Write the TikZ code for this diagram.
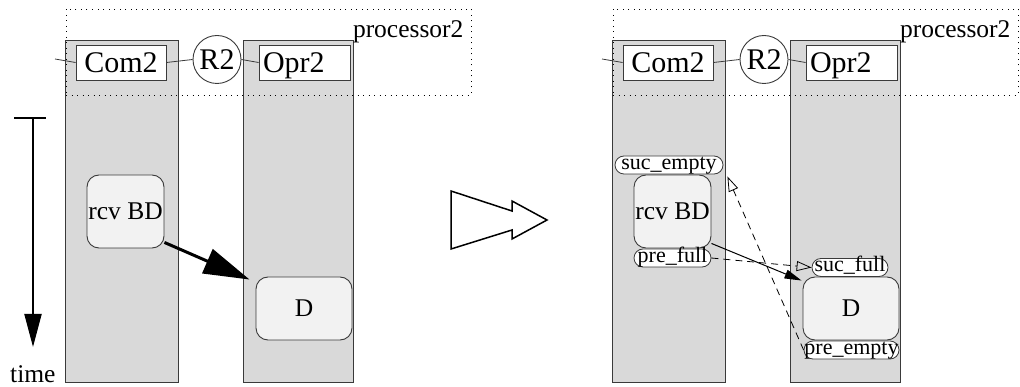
\documentclass[tikz,border=0pt]{standalone}
\usepackage{fontspec}
\setmainfont{Liberation Serif}
\usetikzlibrary{arrows.meta}
\definecolor{colgray}{HTML}{D9D9D9}
\definecolor{boxgray}{HTML}{F2F2F2}
\definecolor{edgegray}{HTML}{3A3A3A}
\begin{document}
\begin{tikzpicture}[x=1pt,y=-1pt,
  column/.style={draw=edgegray, fill=colgray, line width=0.8pt, inner sep=0pt, minimum height=342pt},
  procbox/.style={draw=black, dash pattern=on 1pt off 4.5pt, line width=0.9pt, inner sep=0pt, minimum width=405pt, minimum height=86pt},
  labelbox/.style={draw=edgegray, fill=white, line width=0.9pt, inner sep=0pt, minimum height=35pt, text height=20pt, text depth=0pt, font=\fontsize{30}{34}\selectfont},
  ringnode/.style={circle, draw=edgegray, fill=white, line width=0.9pt, inner sep=0pt, minimum size=48pt, text height=20pt, text depth=-7pt, font=\fontsize{30}{34}\selectfont},
  taskbox/.style={draw=edgegray, fill=boxgray, line width=0.9pt, rounded corners=12pt, inner sep=0pt, font=\fontsize{25.5}{30}\selectfont},
  pill/.style={draw=edgegray, fill=white, line width=0.8pt, rounded corners=9pt, inner sep=0pt, minimum height=18pt, text height=13pt, text depth=4pt, font=\fontsize{22}{24}\selectfont},
  wire/.style={draw=edgegray, line width=0.8pt},
  syncarrow/.style={line width=0.8pt, dash pattern=on 7pt off 5pt, -{Triangle[open,length=15pt,width=10pt]}},
  biglabel/.style={font=\fontsize{25.5}{30}\selectfont}
]
\useasboundingbox (0,0) rectangle (1020,387);

% ---------------- left panel ----------------
\node[column, minimum width=113pt] (colA1) at (121.5,211) {};
\node[column, minimum width=110pt] (colA2) at (298,211) {};
\node[procbox] (procA) at (268.5,52) {};
\node[biglabel, anchor=base east] (procLabA) at (467,38) {processor2};
\node[labelbox, minimum width=90pt] (comA) at (121,62.5) {Com2};
\node[ringnode] (rA) at (217,59.5) {R2};
\node[labelbox, text width=83pt, align=left, inner xsep=4pt] (oprA) at (304.5,62.5) {Opr2};
\coordinate (inA) at (55,59);
\draw[wire] (inA) -- (comA.west);
\draw[wire] (comA.east) -- (rA.west);
\draw[wire] (rA.east) -- (oprA.west);

\node[taskbox, minimum width=77pt, minimum height=73pt] (rcvA) at (125.5,211.5) {rcv BD};
\node[taskbox, minimum width=96pt, minimum height=63pt] (dA) at (304,308.5) {D};
\draw[line width=3pt, -{Triangle[length=46pt,width=26pt]}]
  ([yshift=6pt]rcvA.south east) -- ([xshift=-6pt,yshift=-3pt]dA.north west);

% time axis
\coordinate (tTop) at (33,118);
\coordinate (tBot) at (33,347);
\coordinate (tBarL) at (14,118);
\coordinate (tBarR) at (46,118);
\draw[line width=2pt] (tBarL) -- (tBarR);
\draw[line width=2pt, -{Triangle[length=33pt,width=17pt]}] (tTop) -- (tBot);
\node[biglabel, anchor=base west, inner sep=0pt] (timeLab) at (10,382) {time};

% transformation arrow
\draw[line width=1.5pt, line join=miter] (451,191) -- (512,211) -- (512,201) -- (547,220) -- (512,239) -- (512,230) -- (451,249) -- cycle;

% ---------------- right panel ----------------
\node[column, minimum width=113pt] (colB1) at (668.5,211) {};
\node[column, minimum width=110pt] (colB2) at (845,211) {};
\node[procbox] (procB) at (815.5,52) {};
\node[biglabel, anchor=base east] (procLabB) at (1014,38) {processor2};
\node[labelbox, minimum width=90pt] (comB) at (668,62.5) {Com2};
\node[ringnode] (rB) at (764,59.5) {R2};
\node[labelbox, text width=83pt, align=left, inner xsep=4pt] (oprB) at (851.5,62.5) {Opr2};
\coordinate (inB) at (602,59);
\draw[wire] (inB) -- (comB.west);
\draw[wire] (comB.east) -- (rB.west);
\draw[wire] (rB.east) -- (oprB.west);

\node[taskbox, minimum width=77pt, minimum height=73pt] (rcvB) at (672.5,211.5) {rcv BD};
\node[taskbox, minimum width=96pt, minimum height=63pt] (dB) at (851,308.5) {D};

\node[pill, minimum width=108pt] (sucEmpty) at (669,165) {suc\_empty};
\node[pill, minimum width=77pt] (preFull) at (672.5,258) {pre\_full};
\node[pill, minimum width=76pt] (sucFull) at (850,267.5) {suc\_full};
\node[pill, minimum width=95pt] (preEmpty) at (851.5,350) {pre\_empty};

\draw[line width=1pt, -{Triangle[length=17pt,width=9pt]}]
  ([yshift=5pt]rcvB.south east) -- ([xshift=-1pt,yshift=-4pt]dB.north west);
\draw[syncarrow] (preFull.east) -- (sucFull.west);
\draw[syncarrow] (preEmpty.west) -- ([xshift=4pt,yshift=-2pt]sucEmpty.south east);
\end{tikzpicture}
\end{document}
